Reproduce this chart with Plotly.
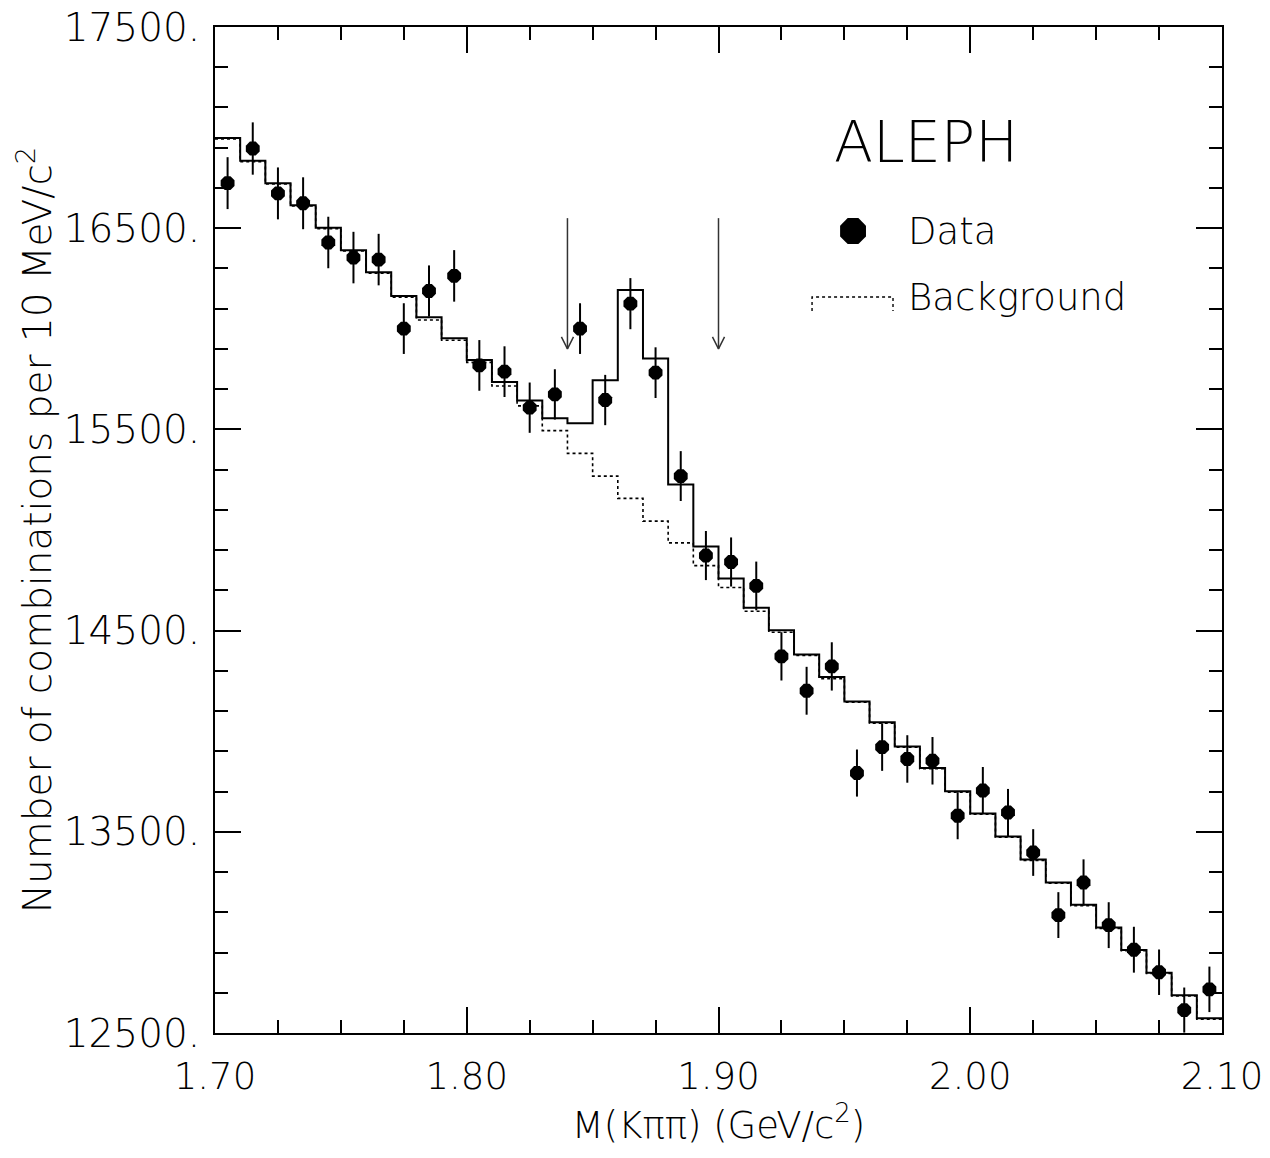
import plotly.graph_objects as go

# ---------------- data ----------------
mass = [1.705, 1.715, 1.725, 1.735, 1.745, 1.755, 1.765, 1.775, 1.785, 1.795,
        1.805, 1.815, 1.825, 1.835, 1.845, 1.855, 1.865, 1.875, 1.885, 1.895,
        1.905, 1.915, 1.925, 1.935, 1.945, 1.955, 1.965, 1.975, 1.985, 1.995,
        2.005, 2.015, 2.025, 2.035, 2.045, 2.055, 2.065, 2.075, 2.085, 2.095]

data_counts = [16724, 16896, 16673, 16624, 16429, 16354, 16344, 16001, 16188, 16263,
               15818, 15787, 15608, 15674, 16001, 15646, 16125, 15782, 15268, 14873,
               14841, 14722, 14372, 14201, 14322, 13792, 13921, 13862, 13853, 13580,
               13705, 13596, 13397, 13086, 13248, 13036, 12914, 12802, 12614, 12717]

data_err = [129, 130, 129, 129, 128, 128, 128, 126, 127, 128,
            126, 126, 125, 125, 126, 125, 127, 126, 124, 122,
            122, 121, 120, 119, 120, 117, 118, 118, 118, 117,
            117, 117, 116, 114, 115, 114, 114, 113, 112, 113]

fit_total = [16948, 16835, 16724, 16614, 16502, 16391, 16281, 16163, 16057, 15953,
             15845, 15735, 15644, 15556, 15531, 15744, 16193, 15852, 15226, 14918,
             14759, 14613, 14502, 14381, 14270, 14148, 14044, 13924, 13817, 13701,
             13591, 13477, 13362, 13248, 13137, 13024, 12913, 12800, 12688, 12573]

fit_background = [16944, 16831, 16720, 16610, 16498, 16387, 16276, 16157, 16044, 15943,
                  15833, 15716, 15617, 15494, 15381, 15268, 15157, 15044, 14936, 14823,
                  14714, 14596, 14492, 14376, 14261, 14144, 14040, 13920, 13813, 13697,
                  13587, 13473, 13358, 13244, 13133, 13020, 12909, 12796, 12684, 12569]

bin_width = 0.01
arrow_x = [1.84, 1.90]
arrow_top = 16550
arrow_tip = 15900

x_ticks = [1.70, 1.80, 1.90, 2.00, 2.10]
x_ticktext = ["1.70", "1.80", "1.90", "2.00", "2.10"]
y_ticks = [12500, 13500, 14500, 15500, 16500, 17500]
y_ticktext = ["12500.", "13500.", "14500.", "15500.", "16500.", "17500."]

FONT = "DejaVu Sans"
W = 200

# ---------------- figure ----------------
fig = go.Figure()

def step_xy(vals):
    xs = [m - bin_width / 2 for m in mass] + [mass[-1] + bin_width / 2]
    ys = list(vals) + [vals[-1]]
    return xs, ys

bx, by = step_xy(fit_background)
fig.add_trace(go.Scatter(x=bx, y=by, mode="lines", line_shape="hv",
                         line=dict(color="black", width=1.6, dash="dot"),
                         showlegend=False, hoverinfo="skip"))
tx, ty = step_xy(fit_total)
fig.add_trace(go.Scatter(x=tx, y=ty, mode="lines", line_shape="hv",
                         line=dict(color="black", width=2),
                         showlegend=False, hoverinfo="skip"))

fig.add_trace(go.Scatter(x=mass, y=data_counts, mode="markers",
                         marker=dict(symbol="octagon", size=15, color="black",
                                     line=dict(width=0)),
                         error_y=dict(type="data", array=data_err, visible=True,
                                      thickness=2, width=0, color="black"),
                         showlegend=False))

# arrows
head_dx = 0.0024
head_dy = 60
ax_x, ax_y = [], []
for xa in arrow_x:
    ax_x += [xa, xa, None, xa - head_dx, xa, xa + head_dx, None]
    ax_y += [arrow_top, arrow_tip, None, arrow_tip + head_dy, arrow_tip, arrow_tip + head_dy, None]
fig.add_trace(go.Scatter(x=ax_x, y=ax_y, mode="lines",
                         line=dict(color="#333333", width=1.5),
                         showlegend=False, hoverinfo="skip"))

# legend items on an overlay (paper-like) axis
fig.add_trace(go.Scatter(x=[0.6336], y=[0.7972], mode="markers",
                         marker=dict(symbol="octagon", size=28, color="black"),
                         xaxis="x2", yaxis="y2", showlegend=False, hoverinfo="skip"))
fig.add_trace(go.Scatter(x=[0.5929, 0.5929, 0.6733, 0.6733], y=[0.7177, 0.7316, 0.7316, 0.7177],
                         mode="lines", line=dict(color="black", width=1.4, dash="dot"),
                         xaxis="x2", yaxis="y2", showlegend=False, hoverinfo="skip"))

fig.add_annotation(x=0.613, y=0.8852, xref="paper", yref="paper", text="ALEPH",
                   showarrow=False, xanchor="left", yanchor="middle",
                   font=dict(family=FONT, size=57, color="black", weight=W))
fig.add_annotation(x=0.686, y=0.7972, xref="paper", yref="paper", text="Data",
                   showarrow=False, xanchor="left", yanchor="middle",
                   font=dict(family=FONT, size=37, color="black", weight=W))
fig.add_annotation(x=0.686, y=0.7316, xref="paper", yref="paper", text="Background",
                   showarrow=False, xanchor="left", yanchor="middle",
                   font=dict(family=FONT, size=37, color="black", weight=W))

axis_common = dict(showgrid=False, zeroline=False, showline=True, linecolor="black",
                   linewidth=2, mirror="allticks", ticks="inside", tickcolor="black",
                   tickwidth=1.5, ticklen=26, automargin=False,
                   ticklabeloverflow="allow")

fig.update_layout(
    width=1270, height=1158,
    margin=dict(l=215, r=48, t=27, b=125),
    paper_bgcolor="white", plot_bgcolor="white",
    font=dict(family=FONT, color="black", weight=W),
    xaxis=dict(range=[1.70, 2.10], tickvals=x_ticks, ticktext=x_ticktext,
               tickfont=dict(size=37, family=FONT, weight=W),
               ticklabelstandoff=10,
               minor=dict(dtick=0.025, tick0=1.70, ticks="inside", ticklen=13,
                          tickcolor="black", tickwidth=1.5),
               title=dict(text="M(Kππ) (GeV/c<sup>2</sup>)",
                          font=dict(size=37, family=FONT, weight=W), standoff=0),
               **axis_common),
    yaxis=dict(range=[12500, 17500], tickvals=y_ticks, ticktext=y_ticktext,
               tickfont=dict(size=39, family=FONT, weight=W),
               ticklabelstandoff=5,
               minor=dict(dtick=200, tick0=12500, ticks="inside", ticklen=13,
                          tickcolor="black", tickwidth=1.5),
               title=dict(text="Number of combinations per 10 MeV/c<sup>2</sup>",
                          font=dict(size=39, family=FONT, weight=W), standoff=0),
               **axis_common),
    xaxis2=dict(range=[0, 1], overlaying="x", visible=False),
    yaxis2=dict(range=[0, 1], overlaying="y", visible=False),
)

fig.write_html("out.html", config={"displayModeBar": False},
               post_script="document.body.style.margin='0';")
